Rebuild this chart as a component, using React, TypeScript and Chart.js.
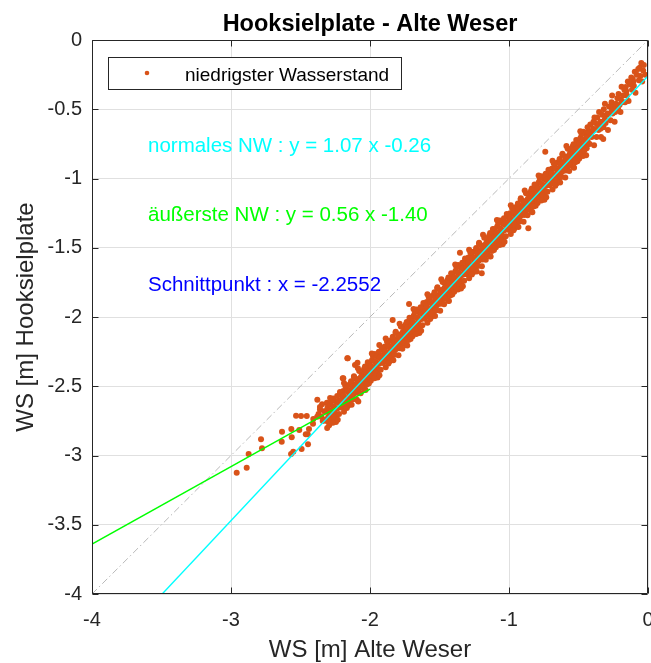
import React, { useEffect, useRef } from "react";
import { Chart, registerables } from "chart.js";

Chart.register(...registerables);

// ---------- data ----------
const chartTitle = "Hooksielplate - Alte Weser";
const xAxisLabel = "WS [m] Alte Weser";
const yAxisLabel = "WS [m] Hooksielplate";
const seriesLabel = "niedrigster Wasserstand";

const xTickValues = [-4, -3, -2, -1, 0];
const yTickValues = [-4, -3.5, -3, -2.5, -2, -1.5, -1, -0.5, 0];

// reference 1:1 line
const diagonalLine = [
  { x: -4, y: -4 },
  { x: 0, y: 0 },
];
// normales NW : y = 1.07 x - 0.26
const normalFitLine = [
  { x: -3.495, y: -4 },
  { x: 0, y: -0.26 },
];
// äußerste NW : y = 0.56 x - 1.40
const extremeFitLine = [
  { x: -4, y: -3.64 },
  { x: -2.0, y: -2.52 },
];

const annotations = [
  { text: "normales NW : y = 1.07 x -0.26", color: "#00FFFF" },
  { text: "äußerste NW : y = 0.56 x -1.40", color: "#00FF00" },
  { text: "Schnittpunkt : x = -2.2552", color: "#0000FF" },
];

// niedrigster Wasserstand: [Alte Weser, Hooksielplate]
const lowWaterPoints: [number, number][] = [
  [-2.959,-3.124],[-2.887,-3.088],[-2.873,-2.989],[-2.784,-2.883],[-2.777,-2.948],[-2.633,-2.828],[-2.635,-2.900],
  [-2.566,-2.809],[-2.563,-2.869],[-2.509,-2.816],[-2.532,-2.713],[-2.496,-2.715],[-2.455,-2.715],[-2.462,-2.847],
  [-2.448,-2.847],[-2.439,-2.809],[-2.446,-2.919],[-2.492,-2.953],[-2.552,-2.973],[-2.568,-2.989],[-2.408,-2.736],
  [-2.410,-2.770],[-2.379,-2.597],[-2.360,-2.667],[-2.345,-2.630],[-2.310,-2.620],[-2.196,-2.443],[-2.160,-2.298],
  [-2.084,-2.611],[-2.108,-2.347],[-2.090,-2.330],
  [-2.37,-2.70],[-2.35,-2.72],[-2.33,-2.68],[-2.36,-2.65],[-2.34,-2.75],[-2.32,-2.74],[-2.38,-2.72],
  [-1.353,-1.536],[-1.719,-1.906],[-1.837,-2.022],[-1.933,-2.202],[-2.163,-2.298],[-2.192,-2.443],[-0.739,-0.806],
  [-0.861,-1.360],[-1.196,-1.685],
  [-2.320,-2.681],[-2.312,-2.751],[-2.305,-2.651],[-2.300,-2.721],[-2.294,-2.781],[-2.288,-2.691],[-2.282,-2.741],[-2.308,-2.801],[-2.285,-2.631],
  [-2.268,-2.718],[-2.260,-2.648],[-2.254,-2.678],[-2.247,-2.608],[-2.241,-2.708],[-2.234,-2.658],[-2.229,-2.618],[-2.265,-2.588],[-2.245,-2.758],
  [-2.222,-2.604],[-2.214,-2.554],[-2.206,-2.654],[-2.199,-2.584],[-2.192,-2.534],[-2.187,-2.684],[-2.181,-2.614],[-2.202,-2.634],[-2.189,-2.574],
  [-2.170,-2.521],[-2.162,-2.591],[-2.155,-2.491],[-2.150,-2.561],[-2.144,-2.621],[-2.138,-2.531],[-2.132,-2.581],[-2.158,-2.641],[-2.135,-2.471],
  [-2.118,-2.557],[-2.110,-2.487],[-2.104,-2.517],[-2.097,-2.447],[-2.091,-2.547],[-2.084,-2.497],[-2.079,-2.457],[-2.115,-2.427],[-2.095,-2.597],
  [-2.072,-2.444],[-2.064,-2.394],[-2.056,-2.494],[-2.049,-2.424],[-2.042,-2.374],[-2.037,-2.524],[-2.031,-2.454],[-2.052,-2.474],[-2.039,-2.414],
  [-2.020,-2.360],[-2.012,-2.430],[-2.005,-2.330],[-2.000,-2.400],[-1.994,-2.460],[-1.988,-2.370],[-1.982,-2.420],[-2.008,-2.480],[-1.985,-2.310],
  [-1.968,-2.397],[-1.960,-2.327],[-1.954,-2.357],[-1.947,-2.287],[-1.941,-2.387],[-1.934,-2.337],[-1.929,-2.297],[-1.965,-2.267],[-1.945,-2.437],
  [-1.922,-2.283],[-1.914,-2.233],[-1.906,-2.333],[-1.899,-2.263],[-1.892,-2.213],[-1.887,-2.363],[-1.881,-2.293],[-1.902,-2.313],[-1.889,-2.253],
  [-1.870,-2.200],[-1.862,-2.270],[-1.855,-2.170],[-1.850,-2.240],[-1.844,-2.300],[-1.838,-2.210],[-1.832,-2.260],[-1.858,-2.320],[-1.835,-2.150],
  [-1.818,-2.236],[-1.810,-2.166],[-1.804,-2.196],[-1.797,-2.126],[-1.791,-2.226],[-1.784,-2.176],[-1.779,-2.136],[-1.815,-2.106],[-1.795,-2.276],
  [-1.772,-2.123],[-1.764,-2.073],[-1.756,-2.173],[-1.749,-2.103],[-1.742,-2.053],[-1.737,-2.203],[-1.731,-2.133],[-1.752,-2.153],[-1.739,-2.093],
  [-1.720,-2.039],[-1.712,-2.109],[-1.705,-2.009],[-1.700,-2.079],[-1.694,-2.139],[-1.688,-2.049],[-1.682,-2.099],[-1.708,-2.159],[-1.685,-1.989],
  [-1.668,-2.076],[-1.660,-2.006],[-1.654,-2.036],[-1.647,-1.966],[-1.641,-2.066],[-1.634,-2.016],[-1.629,-1.976],[-1.665,-1.946],[-1.645,-2.116],
  [-1.622,-1.962],[-1.614,-1.912],[-1.606,-2.012],[-1.599,-1.942],[-1.592,-1.892],[-1.587,-2.042],[-1.581,-1.972],[-1.602,-1.992],[-1.589,-1.932],
  [-1.570,-1.879],[-1.562,-1.949],[-1.555,-1.849],[-1.550,-1.919],[-1.544,-1.979],[-1.538,-1.889],[-1.532,-1.939],[-1.558,-1.999],[-1.535,-1.829],
  [-1.518,-1.915],[-1.510,-1.845],[-1.504,-1.875],[-1.497,-1.805],[-1.491,-1.905],[-1.484,-1.855],[-1.479,-1.815],[-1.515,-1.785],[-1.495,-1.955],
  [-1.472,-1.802],[-1.464,-1.752],[-1.456,-1.852],[-1.449,-1.782],[-1.442,-1.732],[-1.437,-1.882],[-1.431,-1.812],[-1.452,-1.832],[-1.439,-1.772],
  [-1.420,-1.718],[-1.412,-1.788],[-1.405,-1.688],[-1.400,-1.758],[-1.394,-1.818],[-1.388,-1.728],[-1.382,-1.778],[-1.408,-1.838],[-1.385,-1.668],
  [-1.368,-1.755],[-1.360,-1.685],[-1.354,-1.715],[-1.347,-1.645],[-1.341,-1.745],[-1.334,-1.695],[-1.329,-1.655],[-1.365,-1.625],[-1.345,-1.795],
  [-1.322,-1.641],[-1.314,-1.591],[-1.306,-1.691],[-1.299,-1.621],[-1.292,-1.571],[-1.287,-1.721],[-1.281,-1.651],[-1.302,-1.671],[-1.289,-1.611],
  [-1.270,-1.558],[-1.262,-1.628],[-1.255,-1.528],[-1.250,-1.598],[-1.244,-1.658],[-1.238,-1.568],[-1.232,-1.618],[-1.258,-1.678],[-1.235,-1.508],
  [-1.218,-1.594],[-1.210,-1.524],[-1.204,-1.554],[-1.197,-1.484],[-1.191,-1.584],[-1.184,-1.534],[-1.179,-1.494],[-1.215,-1.464],[-1.195,-1.634],
  [-1.172,-1.481],[-1.164,-1.431],[-1.156,-1.531],[-1.149,-1.461],[-1.142,-1.411],[-1.137,-1.561],[-1.131,-1.491],[-1.152,-1.511],[-1.139,-1.451],
  [-1.120,-1.397],[-1.112,-1.467],[-1.105,-1.367],[-1.100,-1.437],[-1.094,-1.497],[-1.088,-1.407],[-1.082,-1.457],[-1.108,-1.517],[-1.085,-1.347],
  [-1.068,-1.434],[-1.060,-1.364],[-1.054,-1.394],[-1.047,-1.324],[-1.041,-1.424],[-1.034,-1.374],[-1.029,-1.334],[-1.065,-1.304],[-1.045,-1.474],
  [-1.022,-1.320],[-1.014,-1.270],[-1.006,-1.370],[-0.999,-1.300],[-0.992,-1.250],[-0.987,-1.400],[-0.981,-1.330],[-1.002,-1.350],[-0.989,-1.290],
  [-0.970,-1.237],[-0.962,-1.307],[-0.955,-1.207],[-0.950,-1.277],[-0.944,-1.337],[-0.938,-1.247],[-0.932,-1.297],[-0.958,-1.357],[-0.935,-1.187],
  [-0.918,-1.273],[-0.910,-1.203],[-0.904,-1.233],[-0.897,-1.163],[-0.891,-1.263],[-0.884,-1.213],[-0.879,-1.173],[-0.915,-1.143],[-0.895,-1.313],
  [-0.872,-1.160],[-0.864,-1.110],[-0.856,-1.210],[-0.849,-1.140],[-0.842,-1.090],[-0.837,-1.240],[-0.831,-1.170],[-0.852,-1.190],[-0.839,-1.130],
  [-0.820,-1.076],[-0.812,-1.146],[-0.805,-1.046],[-0.800,-1.116],[-0.794,-1.176],[-0.788,-1.086],[-0.782,-1.136],[-0.808,-1.196],[-0.785,-1.026],
  [-0.768,-1.113],[-0.760,-1.043],[-0.754,-1.073],[-0.747,-1.003],[-0.741,-1.103],[-0.734,-1.053],[-0.729,-1.013],[-0.765,-0.983],[-0.745,-1.153],
  [-0.722,-0.999],[-0.714,-0.949],[-0.706,-1.049],[-0.699,-0.979],[-0.692,-0.929],[-0.687,-1.079],[-0.681,-1.009],[-0.702,-1.029],[-0.689,-0.969],
  [-0.670,-0.916],[-0.662,-0.986],[-0.655,-0.886],[-0.650,-0.956],[-0.644,-1.016],[-0.638,-0.926],[-0.632,-0.976],[-0.658,-1.036],[-0.635,-0.866],
  [-0.618,-0.952],[-0.610,-0.882],[-0.604,-0.912],[-0.597,-0.842],[-0.591,-0.942],[-0.584,-0.892],[-0.579,-0.852],[-0.615,-0.822],[-0.595,-0.992],
  [-0.572,-0.839],[-0.564,-0.789],[-0.556,-0.889],[-0.549,-0.819],[-0.542,-0.769],[-0.537,-0.919],[-0.531,-0.849],[-0.552,-0.869],[-0.539,-0.809],
  [-0.520,-0.755],[-0.512,-0.825],[-0.505,-0.725],[-0.500,-0.795],[-0.494,-0.855],[-0.488,-0.765],[-0.482,-0.815],[-0.508,-0.875],[-0.485,-0.705],
  [-0.468,-0.792],[-0.460,-0.722],[-0.454,-0.752],[-0.447,-0.682],[-0.441,-0.782],[-0.434,-0.732],[-0.429,-0.692],[-0.465,-0.662],[-0.445,-0.832],
  [-0.415,-0.610],[-0.405,-0.700],[-0.395,-0.640],[-0.388,-0.760],[-0.410,-0.665],[-0.392,-0.590],
  [-0.365,-0.560],[-0.356,-0.650],[-0.345,-0.600],[-0.338,-0.700],[-0.352,-0.520],[-0.342,-0.640],
  [-0.318,-0.500],[-0.305,-0.600],[-0.296,-0.540],[-0.288,-0.650],[-0.310,-0.460],[-0.322,-0.715],
  [-0.262,-0.450],[-0.255,-0.530],[-0.245,-0.480],[-0.240,-0.590],[-0.258,-0.400],[-0.236,-0.520],
  [-0.212,-0.390],[-0.205,-0.470],[-0.195,-0.430],[-0.190,-0.337],[-0.198,-0.520],[-0.186,-0.450],
  [-0.160,-0.340],[-0.152,-0.400],[-0.145,-0.300],[-0.140,-0.440],[-0.156,-0.370],
  [-0.110,-0.280],[-0.102,-0.330],[-0.095,-0.230],[-0.090,-0.380],[-0.105,-0.300],
  [-0.060,-0.200],[-0.055,-0.260],[-0.048,-0.166],[-0.042,-0.300],[-0.035,-0.220],[-0.030,-0.180],[-0.020,-0.250],
  [-2.292,-2.674],[-2.284,-2.744],[-2.278,-2.604],[-2.271,-2.704],[-2.264,-2.644],[-2.258,-2.724],[-2.287,-2.584],[-2.267,-2.764],
  [-2.245,-2.661],[-2.236,-2.571],[-2.229,-2.611],[-2.223,-2.701],[-2.216,-2.541],[-2.210,-2.641],[-2.205,-2.601],[-2.232,-2.741],
  [-2.192,-2.567],[-2.184,-2.637],[-2.178,-2.497],[-2.171,-2.597],[-2.164,-2.537],[-2.158,-2.617],[-2.187,-2.477],[-2.167,-2.657],
  [-2.145,-2.554],[-2.136,-2.464],[-2.129,-2.504],[-2.123,-2.594],[-2.116,-2.434],[-2.110,-2.534],[-2.105,-2.494],[-2.132,-2.634],
  [-2.092,-2.460],[-2.084,-2.530],[-2.078,-2.390],[-2.071,-2.490],[-2.064,-2.430],[-2.058,-2.510],[-2.087,-2.370],[-2.067,-2.550],
  [-2.045,-2.447],[-2.036,-2.357],[-2.029,-2.397],[-2.023,-2.487],[-2.016,-2.327],[-2.010,-2.427],[-2.005,-2.387],[-2.032,-2.527],
  [-1.992,-2.353],[-1.984,-2.423],[-1.978,-2.283],[-1.971,-2.383],[-1.964,-2.323],[-1.958,-2.403],[-1.987,-2.263],[-1.967,-2.443],
  [-1.945,-2.340],[-1.936,-2.250],[-1.929,-2.290],[-1.923,-2.380],[-1.916,-2.220],[-1.910,-2.320],[-1.905,-2.280],[-1.932,-2.420],
  [-1.892,-2.246],[-1.884,-2.316],[-1.878,-2.176],[-1.871,-2.276],[-1.864,-2.216],[-1.858,-2.296],[-1.887,-2.156],[-1.867,-2.336],
  [-1.845,-2.233],[-1.836,-2.143],[-1.829,-2.183],[-1.823,-2.273],[-1.816,-2.113],[-1.810,-2.213],[-1.805,-2.173],[-1.832,-2.313],
  [-1.792,-2.139],[-1.784,-2.209],[-1.778,-2.069],[-1.771,-2.169],[-1.764,-2.109],[-1.758,-2.189],[-1.787,-2.049],[-1.767,-2.229],
  [-1.745,-2.126],[-1.736,-2.036],[-1.729,-2.076],[-1.723,-2.166],[-1.716,-2.006],[-1.710,-2.106],[-1.705,-2.066],[-1.732,-2.206],
  [-1.692,-2.032],[-1.684,-2.102],[-1.678,-1.962],[-1.671,-2.062],[-1.664,-2.002],[-1.658,-2.082],[-1.687,-1.942],[-1.667,-2.122],
  [-1.645,-2.019],[-1.636,-1.929],[-1.629,-1.969],[-1.623,-2.059],[-1.616,-1.899],[-1.610,-1.999],[-1.605,-1.959],[-1.632,-2.099],
  [-1.592,-1.925],[-1.584,-1.995],[-1.578,-1.855],[-1.571,-1.955],[-1.564,-1.895],[-1.558,-1.975],[-1.587,-1.835],[-1.567,-2.015],
  [-1.545,-1.912],[-1.536,-1.822],[-1.529,-1.862],[-1.523,-1.952],[-1.516,-1.792],[-1.510,-1.892],[-1.505,-1.852],[-1.532,-1.992],
  [-1.492,-1.818],[-1.484,-1.888],[-1.478,-1.748],[-1.471,-1.848],[-1.464,-1.788],[-1.458,-1.868],[-1.487,-1.728],[-1.467,-1.908],
  [-1.445,-1.805],[-1.436,-1.715],[-1.429,-1.755],[-1.423,-1.845],[-1.416,-1.685],[-1.410,-1.785],[-1.405,-1.745],[-1.432,-1.885],
  [-1.392,-1.711],[-1.384,-1.781],[-1.378,-1.641],[-1.371,-1.741],[-1.364,-1.681],[-1.358,-1.761],[-1.387,-1.621],[-1.367,-1.801],
  [-1.345,-1.698],[-1.336,-1.608],[-1.329,-1.648],[-1.323,-1.738],[-1.316,-1.578],[-1.310,-1.678],[-1.305,-1.638],[-1.332,-1.778],
  [-1.292,-1.604],[-1.284,-1.674],[-1.278,-1.534],[-1.271,-1.634],[-1.264,-1.574],[-1.258,-1.654],[-1.287,-1.514],[-1.267,-1.694],
  [-1.245,-1.591],[-1.236,-1.501],[-1.229,-1.541],[-1.223,-1.631],[-1.216,-1.471],[-1.210,-1.571],[-1.205,-1.531],[-1.232,-1.671],
  [-1.192,-1.497],[-1.184,-1.567],[-1.178,-1.427],[-1.171,-1.527],[-1.164,-1.467],[-1.158,-1.547],[-1.187,-1.407],[-1.167,-1.587],
  [-1.145,-1.484],[-1.136,-1.394],[-1.129,-1.434],[-1.123,-1.524],[-1.116,-1.364],[-1.110,-1.464],[-1.105,-1.424],[-1.132,-1.564],
  [-1.092,-1.390],[-1.084,-1.460],[-1.078,-1.320],[-1.071,-1.420],[-1.064,-1.360],[-1.058,-1.440],[-1.087,-1.300],[-1.067,-1.480],
  [-1.045,-1.377],[-1.036,-1.287],[-1.029,-1.327],[-1.023,-1.417],[-1.016,-1.257],[-1.010,-1.357],[-1.005,-1.317],[-1.032,-1.457],
  [-0.992,-1.283],[-0.984,-1.353],[-0.978,-1.213],[-0.971,-1.313],[-0.964,-1.253],[-0.958,-1.333],[-0.987,-1.193],[-0.967,-1.373],
  [-0.945,-1.270],[-0.936,-1.180],[-0.929,-1.220],[-0.923,-1.310],[-0.916,-1.150],[-0.910,-1.250],[-0.905,-1.210],[-0.932,-1.350],
  [-0.892,-1.176],[-0.884,-1.246],[-0.878,-1.106],[-0.871,-1.206],[-0.864,-1.146],[-0.858,-1.226],[-0.887,-1.086],[-0.867,-1.266],
  [-0.845,-1.163],[-0.836,-1.073],[-0.829,-1.113],[-0.823,-1.203],[-0.816,-1.043],[-0.810,-1.143],[-0.805,-1.103],[-0.832,-1.243],
  [-0.792,-1.069],[-0.784,-1.139],[-0.778,-0.999],[-0.771,-1.099],[-0.764,-1.039],[-0.758,-1.119],[-0.787,-0.979],[-0.767,-1.159],
  [-0.745,-1.056],[-0.736,-0.966],[-0.729,-1.006],[-0.723,-1.096],[-0.716,-0.936],[-0.710,-1.036],[-0.705,-0.996],[-0.732,-1.136],
  [-0.692,-0.962],[-0.684,-1.032],[-0.678,-0.892],[-0.671,-0.992],[-0.664,-0.932],[-0.658,-1.012],[-0.687,-0.872],[-0.667,-1.052],
  [-0.645,-0.949],[-0.636,-0.859],[-0.629,-0.899],[-0.623,-0.989],[-0.616,-0.829],[-0.610,-0.929],[-0.605,-0.889],[-0.632,-1.029],
  [-0.592,-0.855],[-0.584,-0.925],[-0.578,-0.785],[-0.571,-0.885],[-0.564,-0.825],[-0.558,-0.905],[-0.587,-0.765],[-0.567,-0.945],
  [-0.545,-0.842],[-0.536,-0.752],[-0.529,-0.792],[-0.523,-0.882],[-0.516,-0.722],[-0.510,-0.822],[-0.505,-0.782],[-0.532,-0.922],
  [-0.492,-0.748],[-0.484,-0.818],[-0.478,-0.678],[-0.471,-0.778],[-0.464,-0.718],[-0.458,-0.798],[-0.487,-0.658],[-0.467,-0.838],
  [-0.440,-0.700],[-0.430,-0.660],[-0.420,-0.750],[-0.410,-0.690],[-0.435,-0.630],
  [-0.390,-0.650],[-0.380,-0.600],[-0.370,-0.700],[-0.360,-0.620],[-0.385,-0.560],
  [-0.340,-0.590],[-0.330,-0.540],[-0.320,-0.630],[-0.310,-0.570],
  [-0.290,-0.530],[-0.280,-0.480],[-0.270,-0.580],[-0.260,-0.510],
  [-0.230,-0.460],[-0.220,-0.420],[-0.215,-0.500],
  [-0.180,-0.400],[-0.170,-0.360],[-0.165,-0.450],
  [-0.130,-0.320],[-0.120,-0.270],[-0.115,-0.360],
  [-0.080,-0.250],[-0.070,-0.210],[-0.065,-0.290],
];

// ---------- styling ----------
const FONT = "'Liberation Sans', Arial, Helvetica, sans-serif";
const AXIS_COLOR = "#262626";
const POINT_COLOR = "#D95319";

const overlayPlugin = {
  id: "matlabOverlay",
  afterDatasetsDraw(chart: any) {
    const ctx = chart.ctx as CanvasRenderingContext2D;
    const ca = chart.chartArea;
    const xs = chart.scales.x;
    const ys = chart.scales.y;
    ctx.save();

    // box + inward ticks
    ctx.strokeStyle = AXIS_COLOR;
    ctx.lineWidth = 1;
    const L = Math.round(ca.left) + 0.5;
    const R = Math.round(ca.right) - 0.5;
    const T = Math.round(ca.top) + 0.5;
    const B = Math.round(ca.bottom) - 0.5;
    ctx.beginPath();
    ctx.rect(L, T, R - L, B - T);
    ctx.stroke();
    const tl = 6;
    ctx.beginPath();
    xTickValues.forEach((v) => {
      const px = Math.round(xs.getPixelForValue(v)) + 0.5;
      ctx.moveTo(px, B);
      ctx.lineTo(px, B - tl);
      ctx.moveTo(px, T);
      ctx.lineTo(px, T + tl);
    });
    yTickValues.forEach((v) => {
      const py = Math.round(ys.getPixelForValue(v)) + 0.5;
      ctx.moveTo(L, py);
      ctx.lineTo(L + tl, py);
      ctx.moveTo(R, py);
      ctx.lineTo(R - tl, py);
    });
    ctx.stroke();

    // legend box
    const lx = ca.left + 16;
    const ly = ca.top + 17;
    ctx.fillStyle = "#ffffff";
    ctx.fillRect(lx, ly, 293, 32);
    ctx.strokeStyle = AXIS_COLOR;
    ctx.strokeRect(lx + 0.5, ly + 0.5, 293, 32);
    ctx.fillStyle = POINT_COLOR;
    ctx.beginPath();
    ctx.arc(lx + 39, ly + 16, 2.3, 0, Math.PI * 2);
    ctx.fill();
    ctx.fillStyle = "#000000";
    ctx.font = `19px ${FONT}`;
    ctx.textAlign = "left";
    ctx.textBaseline = "alphabetic";
    ctx.fillText(seriesLabel, lx + 77, ly + 23.5);

    // annotation texts
    ctx.font = `20.5px ${FONT}`;
    const baselines = [152, 221, 291];
    annotations.forEach((a, i) => {
      ctx.fillStyle = a.color;
      ctx.fillText(a.text, ca.left + 56, baselines[i]);
    });

    // title
    const cx = (ca.left + ca.right) / 2;
    ctx.fillStyle = "#000000";
    ctx.font = `bold 23.5px ${FONT}`;
    ctx.textAlign = "center";
    ctx.fillText(chartTitle, cx, 31);

    // axis titles
    ctx.fillStyle = AXIS_COLOR;
    ctx.font = `24px ${FONT}`;
    ctx.fillText(xAxisLabel, cx, 657);
    ctx.save();
    ctx.translate(33, (ca.top + ca.bottom) / 2);
    ctx.rotate(-Math.PI / 2);
    ctx.fillText(yAxisLabel, 0, 0);
    ctx.restore();

    ctx.restore();
  },
};

export default function App() {
  const canvasRef = useRef<HTMLCanvasElement | null>(null);

  useEffect(() => {
    const canvas = canvasRef.current;
    if (!canvas) return;
    const chart = new Chart(canvas, {
      type: "scatter",
      data: {
        datasets: [
          {
            type: "line",
            label: "normales NW",
            data: normalFitLine,
            borderColor: "#00FFFF",
            borderWidth: 1.4,
            pointRadius: 0,
            order: 0,
          } as any,
          {
            type: "line",
            label: "äußerste NW",
            data: extremeFitLine,
            borderColor: "#00FF00",
            borderWidth: 1.4,
            pointRadius: 0,
            order: 1,
          } as any,
          {
            label: seriesLabel,
            data: lowWaterPoints.map(([x, y]) => ({ x, y })),
            backgroundColor: POINT_COLOR,
            borderColor: POINT_COLOR,
            borderWidth: 0,
            pointRadius: 3,
            pointHoverRadius: 3,
            order: 5,
          },
          {
            type: "line",
            label: "1:1",
            data: diagonalLine,
            borderColor: "#b8b8b8",
            borderWidth: 1,
            borderDash: [7, 3, 1.5, 3],
            pointRadius: 0,
            order: 8,
          } as any,
        ],
      },
      options: {
        animation: false,
        responsive: false,
        maintainAspectRatio: false,
        events: [],
        layout: { autoPadding: false, padding: { top: 40, right: 3, left: 0, bottom: 0 } },
        plugins: {
          legend: { display: false },
          title: { display: false },
          tooltip: { enabled: false },
        },
        scales: {
          x: {
            type: "linear",
            min: -4,
            max: 0,
            afterBuildTicks: (s: any) => {
              s.ticks = xTickValues.map((v) => ({ value: v }));
            },
            afterFit: (s: any) => {
              s.height = 69;
              s.paddingLeft = 0;
              s.paddingRight = 0;
            },
            ticks: {
              padding: 14,
              color: AXIS_COLOR,
              font: { family: FONT, size: 20 },
              maxRotation: 0,
              callback: (v: any) => String(v),
            },
            grid: { color: "#e0e0e0", drawTicks: false },
            border: { display: false },
          },
          y: {
            type: "linear",
            min: -4,
            max: 0,
            afterBuildTicks: (s: any) => {
              s.ticks = yTickValues.map((v) => ({ value: v }));
            },
            afterFit: (s: any) => {
              s.width = 92;
              s.paddingTop = 0;
              s.paddingBottom = 0;
            },
            ticks: {
              padding: 10,
              color: AXIS_COLOR,
              font: { family: FONT, size: 20 },
              callback: (v: any) => String(v),
            },
            grid: { color: "#e0e0e0", drawTicks: false },
            border: { display: false },
          },
        },
      },
      plugins: [overlayPlugin],
    });
    return () => chart.destroy();
  }, []);

  return (
    <div style={{ position: "absolute", left: 0, top: 0, width: 651, height: 663, background: "#ffffff" }}>
      <canvas ref={canvasRef} width={651} height={663} style={{ display: "block", width: 651, height: 663 }} />
    </div>
  );
}
